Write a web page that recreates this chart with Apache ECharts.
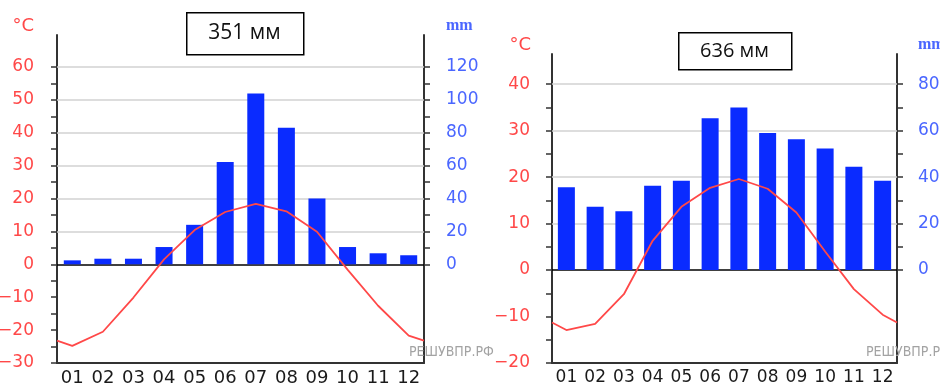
<!DOCTYPE html>
<html>
<head>
<meta charset="utf-8">
<script src="https://cdn.jsdelivr.net/npm/echarts@6.0.0/dist/echarts.min.js"></script>
<style>
  html, body { margin: 0; padding: 0; background: #fff; }
  #chart { width: 940px; height: 389px; }
</style>
</head>
<body>
<div id="chart"></div>
<script>
// month labels, shared by both climatograms
var months = ['01', '02', '03', '04', '05', '06', '07', '08', '09', '10', '11', '12'];
var totals = ['351 мм', '636 мм'];

// left station
var precipA = [2.4, 3.4, 3.4, 10.5, 24, 62.2, 103.8, 83, 40, 10.5, 6.7, 5.5];
var tempA = [-24.8, -20.5, -10.1, 1.5, 10.4, 15.9, 18.4, 16.1, 9.9, -1.6, -12.6, -21.7];
var tempEdgeA = [-23.2, -23.2];     // where the curve meets the frame
var tempLabelsA = [-30, -20, -10, 0, 10, 20, 30, 40, 50, 60];
var tempTicksA = [-30, -25, -20, -15, -10, -5, 0, 5, 10, 15, 20, 25, 30, 35, 40, 45, 50, 55, 60];
var mmLabelsA = [0, 20, 40, 60, 80, 100, 120];
var mmTicksA = [0, 10, 20, 30, 40, 50, 60, 70, 80, 90, 100, 110, 120];
var gridTempsA = [10, 20, 30, 40, 50, 60];

// right station
var precipB = [35.6, 27.3, 25.3, 36.3, 38.4, 65.3, 70, 59, 56.3, 52.3, 44.5, 38.4];
var tempB = [-12.9, -11.6, -5.2, 6.3, 13.6, 17.7, 19.6, 17.5, 12.4, 4, -4.1, -9.6];
var tempEdgeB = [-11.3, -11.3];
var tempLabelsB = [-20, -10, 0, 10, 20, 30, 40];
var tempTicksB = [-20, -15, -10, -5, 0, 5, 10, 15, 20, 25, 30, 35, 40];
var mmLabelsB = [0, 20, 40, 60, 80];
var mmTicksB = [0, 10, 20, 30, 40, 50, 60, 70, 80];
var gridTempsB = [10, 20, 30, 40];

var RED = '#ff4848';
var BLUE = '#4a66ff';
var BAR = '#0a2bff';
var AXIS = '#333';

var chart = echarts.init(document.getElementById('chart'));

function lineData(edge, temps) {
	var d = [[0.5, edge[0]]];
	for (var i = 0; i < temps.length; i++) d.push([i + 1, temps[i]]);
	d.push([12.5, edge[1]]);
	return d;
}

function catAxis(grid, fs) {
	return {
		type: 'category', gridIndex: grid, data: months, position: 'bottom',
		axisLine: { onZero: false, lineStyle: { color: AXIS, width: 2 } },
		axisTick: { length: 6, interval: 0, lineStyle: { color: AXIS, width: 1.5 } },
		axisLabel: { color: '#1a1a1a', fontSize: fs, fontFamily: 'DejaVu Sans', margin: 6, interval: 0 },
		splitLine: { show: false }
	};
}

function valX(grid) {
	return { type: 'value', gridIndex: grid, min: 0.5, max: 12.5, show: false };
}

function yAx(grid, pos, min, max, labels, ticks, color, margin) {
	return {
		type: 'value', gridIndex: grid, position: pos, min: min, max: max,
		axisLine: { show: true, onZero: false, lineStyle: { color: AXIS, width: 2 } },
		axisTick: { show: true, length: 6, customValues: ticks, lineStyle: { color: AXIS, width: 1.5 } },
		axisLabel: {
			customValues: labels, color: color, fontSize: 17, fontFamily: 'DejaVu Sans', margin: margin,
			formatter: function (v) { return String(v).replace('-', '\u2212'); }
		},
		splitLine: { show: false }
	};
}

function gridLines(vals) {
	var d = vals.map(function (v) { return { yAxis: v }; });
	d.push({ yAxis: 0, lineStyle: { color: '#000', width: 1.5, type: 'solid' } });
	return {
		silent: true, z: 1, symbol: ['none', 'none'], label: { show: false },
		lineStyle: { color: '#d2d2d2', width: 1.6, type: 'solid' },
		data: d
	};
}

chart.setOption({
	animation: false,
	grid: [
		{ left: 57, right: 516, top: 35, bottom: 26, containLabel: false, outerBoundsMode: 'none' },
		{ left: 552, right: 43, top: 54, bottom: 26, containLabel: false, outerBoundsMode: 'none' }
	],
	xAxis: [catAxis(0, 18), valX(0), catAxis(1, 17), valX(1)],
	yAxis: [
		yAx(0, 'left', -30, 69.7, tempLabelsA, tempTicksA, RED, 23),
		yAx(0, 'right', -60, 139.4, mmLabelsA, mmTicksA, BLUE, 22),
		yAx(1, 'left', -20, 46.5, tempLabelsB, tempTicksB, RED, 22),
		yAx(1, 'right', -40, 93, mmLabelsB, mmTicksB, BLUE, 21)
	],
	series: [
		{ type: 'bar', xAxisIndex: 0, yAxisIndex: 1, data: precipA, barWidth: 17, z: 2, itemStyle: { color: BAR } },
		{ type: 'line', xAxisIndex: 1, yAxisIndex: 0, data: lineData(tempEdgeA, tempA), symbol: 'none', z: 3,
		  lineStyle: { color: RED, width: 1.8 }, markLine: gridLines(gridTempsA) },
		{ type: 'bar', xAxisIndex: 2, yAxisIndex: 3, data: precipB, barWidth: 17, z: 2, itemStyle: { color: BAR } },
		{ type: 'line', xAxisIndex: 3, yAxisIndex: 2, data: lineData(tempEdgeB, tempB), symbol: 'none', z: 3,
		  lineStyle: { color: RED, width: 1.8 }, markLine: gridLines(gridTempsB) }
	],
	graphic: [
		// annual totals in boxes
		{ type: 'rect', left: 186, top: 12, shape: { width: 117, height: 42 }, style: { fill: '#fff', stroke: '#000', lineWidth: 1.5 }, z: 10 },
		{ type: 'text', x: 244.5, y: 33, z: 11, style: { text: totals[0], fill: '#111', font: '21px "Open Sans"', textAlign: 'center', textVerticalAlign: 'middle' } },
		{ type: 'rect', left: 678, top: 32, shape: { width: 113, height: 37 }, style: { fill: '#fff', stroke: '#000', lineWidth: 1.5 }, z: 10 },
		{ type: 'text', x: 734.5, y: 51, z: 11, style: { text: totals[1], fill: '#111', font: '20px "Open Sans"', textAlign: 'center', textVerticalAlign: 'middle' } },
		// units
		{ type: 'text', x: 34, y: 26, style: { text: '°C', fill: RED, font: '18px "DejaVu Sans"', textAlign: 'right', textVerticalAlign: 'middle' } },
		{ type: 'text', x: 446, y: 26, style: { text: 'mm', fill: BLUE, font: 'bold 16px "Liberation Serif"', textAlign: 'left', textVerticalAlign: 'middle' } },
		{ type: 'text', x: 531, y: 45, style: { text: '°C', fill: RED, font: '18px "DejaVu Sans"', textAlign: 'right', textVerticalAlign: 'middle' } },
		{ type: 'text', x: 918, y: 45, style: { text: 'mm', fill: BLUE, font: 'bold 16px "Liberation Serif"', textAlign: 'left', textVerticalAlign: 'middle' } },
		// watermarks
		{ type: 'text', x: 409, y: 352, z: 20, style: { text: 'РЕШУВПР.РФ', fill: '#a3a3a3', font: '14px "Liberation Sans Narrow", "DejaVu Sans Condensed", sans-serif', textAlign: 'left', textVerticalAlign: 'middle' } },
		{ type: 'text', x: 866, y: 352, z: 20, style: { text: 'РЕШУВПР.РФ', fill: '#a3a3a3', font: '14px "Liberation Sans Narrow", "DejaVu Sans Condensed", sans-serif', textAlign: 'left', textVerticalAlign: 'middle' } }
	]
});
</script>
</body>
</html>
